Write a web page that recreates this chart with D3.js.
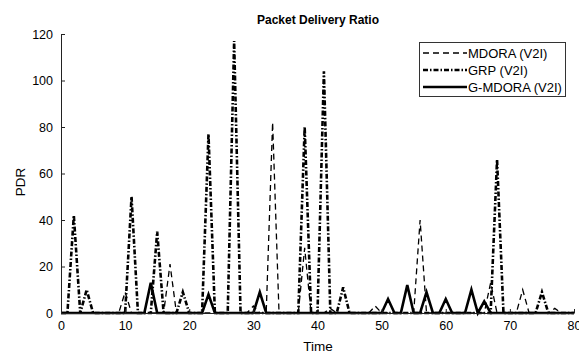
<!DOCTYPE html>
<html>
<head>
<meta charset="utf-8">
<script src="https://cdn.jsdelivr.net/npm/d3@7"></script>
<style>
  body { margin: 0; background: #fff; }
  svg { display: block; font-family: "Liberation Sans", Arial, sans-serif; }
</style>
</head>
<body>
<svg id="chart" width="579" height="356"></svg>
<script>
const time = [0,1,2,3,4,5,6,7,8,9,10,11,12,13,14,15,16,17,18,19,20,21,22,23,24,25,26,27,28,29,30,31,32,33,34,35,36,37,38,39,40,41,42,43,44,45,46,47,48,49,50,51,52,53,54,55,56,57,58,59,60,61,62,63,64,65,66,67,68,69,70,71,72,73,74,75,76,77,78,79,80];
//            0 1  2 3  4 5 6 7 8 9 10 11 12 13 14 15 16 17 18 19 20 21 22 23 24 25 26  27 28 29 30 31 32 33 34 35 36 37 38 39 40  41 42 43 44 45 46 47 48 49 50 51 52 53 54 55 56 57 58 59 60 61 62 63 64 65 66 67 68 69 70 71 72 73 74 75 76 77 78 79 80
const mdora = [0,0, 0,0, 0,0,0,0,0,0, 9, 0, 0, 0, 0, 0, 0,21, 0, 0, 0, 0, 0, 0, 0, 0, 0,  0, 0, 0, 3, 0, 0,82, 0, 0, 0, 0,28, 0, 0,  0, 2, 0, 0, 0, 0, 0, 0, 3, 0, 0, 0, 0, 0, 0,40, 0, 0, 0, 0, 0, 0, 0, 0, 0, 0,13, 0, 0, 0, 0,10, 0, 0, 0, 0, 2, 0, 0, 0];
const grp   = [0,0,42,0,10,0,0,0,0,0, 0,50, 0, 0, 0,35, 0, 0, 0, 9, 0, 0, 0,77, 0, 0, 0,117, 0, 0, 0, 0, 0, 0, 0, 0, 0, 0,80, 0, 0,104, 0, 0,11, 0, 0, 0, 0, 0, 0, 0, 0, 0, 0, 0, 0, 0, 0, 0, 0, 0, 0, 0, 0, 0, 0, 0,66, 0, 0, 0, 0, 0, 0, 9, 0, 0, 0, 0, 0];
const gmdora= [0,0, 0,0, 0,0,0,0,0,0, 0, 0, 0, 0,13, 0, 0, 0, 0, 0, 0, 0, 0, 8, 0, 0, 0,  0, 0, 0, 0, 9, 0, 0, 0, 0, 0, 0, 0, 0, 0,  0, 0, 0, 0, 0, 0, 0, 0, 0, 0, 6, 0, 0,12, 0, 0, 9, 0, 0, 6, 0, 0, 0,10, 0, 5, 0, 0, 0, 0, 0, 0, 0, 0, 0, 0, 0, 0, 0, 0];
const xTicks = [0,10,20,30,40,50,60,70,80];
const yTicks = [0,20,40,60,80,100,120];
const seriesNames = ["MDORA (V2I)", "GRP (V2I)", "G-MDORA (V2I)"];

const svg = d3.select("#chart");
const x = d3.scaleLinear().domain([0, 80]).range([61, 574]);
const y = d3.scaleLinear().domain([0, 120]).range([313, 34]);

const styles = [
  { w: 1.3, dash: "6,4" },
  { w: 2.6, dash: "5,2,1.5,2" },
  { w: 2.6, dash: null }
];
const seriesData = [mdora, grp, gmdora];

// axes
const xAxis = d3.axisBottom(x).tickValues(xTicks).tickSize(-4).tickSizeOuter(0).tickPadding(8);
const yAxis = d3.axisLeft(y).tickValues(yTicks).tickSize(-4).tickSizeOuter(0).tickPadding(8);

const line = d3.line().x((d, i) => x(time[i])).y(d => y(d));

seriesData.forEach((s, k) => {
  const p = svg.append("path").datum(s).attr("d", line)
    .attr("fill", "none").attr("stroke", "#000")
    .attr("stroke-width", styles[k].w).attr("stroke-linejoin", "miter");
  if (styles[k].dash) p.attr("stroke-dasharray", styles[k].dash);
});

const gx = svg.append("g").attr("transform", "translate(0,313)").call(xAxis);
const gy = svg.append("g").attr("transform", "translate(61,0)").call(yAxis);
[gx, gy].forEach(g => {
  g.selectAll("text").attr("font-size", 12.5).attr("fill", "#000")
    .attr("font-family", "Liberation Sans, Arial, sans-serif");
  g.select(".domain").attr("stroke", "#222").attr("stroke-width", 1);
  g.selectAll(".tick line").attr("stroke", "#222");
});

// title and labels
svg.append("text").attr("x", 318).attr("y", 24).attr("text-anchor", "middle")
  .attr("font-size", 12).attr("font-weight", "bold").text("Packet Delivery Ratio");
svg.append("text").attr("x", 318).attr("y", 351).attr("text-anchor", "middle")
  .attr("font-size", 13.5).text("Time");
svg.append("text").attr("transform", "translate(25,182) rotate(-90)").attr("text-anchor", "middle")
  .attr("font-size", 13.5).text("PDR");

// legend
const lg = svg.append("g");
lg.append("rect").attr("x", 419.5).attr("y", 42.5).attr("width", 146).attr("height", 54)
  .attr("fill", "#fff").attr("stroke", "#333").attr("stroke-width", 1);
seriesNames.forEach((n, k) => {
  const yy = 53 + k * 17;
  const l = lg.append("line").attr("x1", 423).attr("x2", 467).attr("y1", yy).attr("y2", yy)
    .attr("stroke", "#000").attr("stroke-width", styles[k].w);
  if (styles[k].dash) l.attr("stroke-dasharray", styles[k].dash);
  lg.append("text").attr("x", 468).attr("y", yy + 4.5).attr("font-size", 13).text(n);
});
</script>
</body>
</html>
